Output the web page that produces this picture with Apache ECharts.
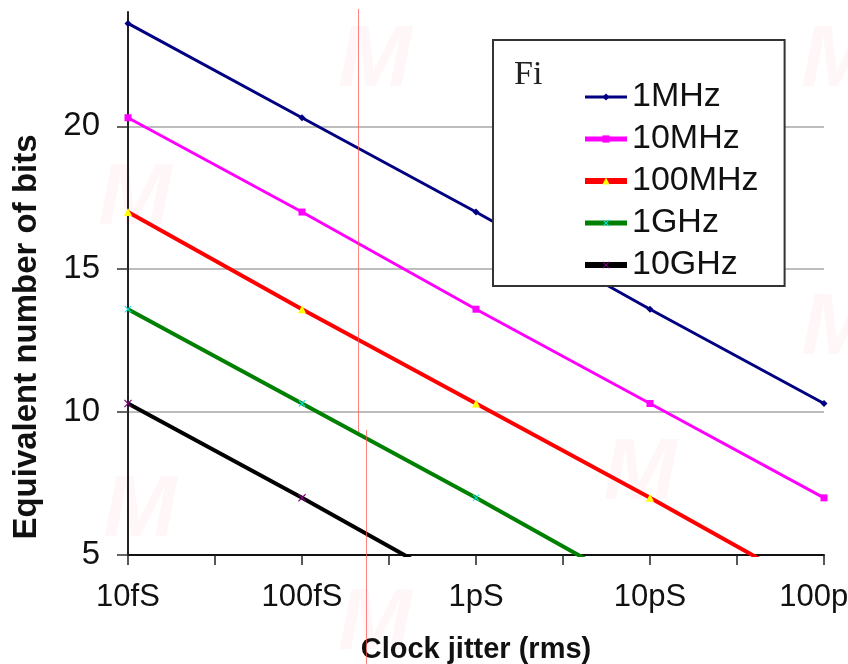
<!DOCTYPE html>
<html>
<head>
<meta charset="utf-8">
<script src="https://cdn.jsdelivr.net/npm/echarts@6/dist/echarts.min.js"></script>
<style>
  html, body { margin: 0; padding: 0; background: #ffffff; }
  #chart { width: 848px; height: 664px; }
</style>
</head>
<body>
<div id="chart"></div>
<script>
// Clock jitter (rms) in seconds, one point per decade, and the tick labels for them
const jitterSeconds = [1e-14, 1e-13, 1e-12, 1e-11, 1e-10];
const jitterLabels = ['10fS', '100fS', '1pS', '10pS', '100pS'];
const bitTicks = [5, 10, 15, 20];

// Equivalent number of bits for each input frequency
const seriesNames = ['1MHz', '10MHz', '100MHz', '1GHz', '10GHz'];
const enob1MHz = [23.6, 20.3, 17.0, 13.6, 10.3];
const enob10MHz = [20.3, 17.0, 13.6, 10.3, 7.0];
const enob100MHz = [17.0, 13.6, 10.3, 7.0, 3.6];
const enob1GHz = [13.6, 10.3, 7.0, 3.6, 0.3];
const enob10GHz = [10.3, 7.0, 3.6, 0.3, -3.0];

const FONT = '"Liberation Sans", Arial, sans-serif';
const crossSymbol = 'path://M0,1L1,0L5,4L9,0L10,1L6,5L10,9L9,10L5,6L1,10L0,9L4,5Z';

function pairs(values) {
  return jitterSeconds.map((s, i) => [s, values[i]]);
}

function lineSeries(name, values, lineColor, lineWidth, symbol, symbolSize, markColor) {
  return {
    name: name,
    type: 'line',
    data: pairs(values),
    clip: true,
    symbol: symbol,
    symbolSize: symbolSize,
    showSymbol: true,
    lineStyle: { color: lineColor, width: lineWidth },
    itemStyle: { color: markColor, borderWidth: 0 },
    emphasis: { disabled: true },
    animation: false
  };
}

function jitterLabel(v) {
  const lg = Math.log10(v);
  const e = Math.round(lg);
  if (Math.abs(lg - e) > 0.01) return '';
  const i = jitterSeconds.findIndex(s => Math.round(Math.log10(s)) === e);
  return i >= 0 ? jitterLabels[i] : '';
}

// faint background logo marks
const logoSpots = [[375, 62], [135, 200], [140, 512], [640, 475], [375, 625], [838, 62], [838, 330]];
const logoMarks = logoSpots.map(p => ({
  type: 'text',
  x: p[0], y: p[1], z: -10, silent: true,
  style: {
    text: 'M', font: 'italic bold 88px ' + FONT,
    fill: 'rgba(255, 60, 60, 0.045)', textAlign: 'center', textVerticalAlign: 'middle'
  }
}));

// legend line thickness per entry
const legendWidths = [3, 5, 6, 5, 6];

const chart = echarts.init(document.getElementById('chart'), null, { renderer: 'canvas' });

chart.setOption({
  backgroundColor: '#ffffff',
  animation: false,
  grid: {
    left: 128, right: 24, top: 12, bottom: 109,
    containLabel: false,
    outerBoundsMode: 'none'
  },
  xAxis: {
    type: 'log',
    logBase: 10,
    min: 1e-14,
    max: 1e-10,
    interval: 0.5,
    axisLine: { show: true, onZero: false, lineStyle: { color: '#111111', width: 2 } },
    axisTick: { show: true, inside: false, length: 10, lineStyle: { color: '#222222', width: 1.5 } },
    minorTick: { show: false },
    splitLine: { show: false },
    axisLabel: {
      formatter: jitterLabel,
      fontFamily: FONT, fontSize: 31, color: '#111111', margin: 27,
      showMinLabel: true, showMaxLabel: true, hideOverlap: false
    },
    name: 'Clock jitter (rms)',
    nameLocation: 'middle',
    nameGap: 80,
    nameTextStyle: { fontFamily: FONT, fontSize: 29, fontWeight: 'bold', color: '#111111' }
  },
  yAxis: {
    type: 'value',
    min: 5,
    max: 24,
    interval: 5,
    axisLine: { show: true, onZero: false, lineStyle: { color: '#222222', width: 2 } },
    axisTick: { show: true, inside: false, length: 11, customValues: bitTicks, lineStyle: { color: '#333333', width: 1.5 } },
    splitLine: { show: true, showMinLine: false, lineStyle: { color: '#bdbdbd', width: 2 } },
    axisLabel: { customValues: bitTicks, fontFamily: FONT, fontSize: 33, color: '#111111', margin: 28 }
  },
  legend: {
    data: seriesNames.map((n, i) => ({ name: n, lineStyle: { width: legendWidths[i] } })),
    orient: 'vertical',
    left: 493,
    top: 40,
    padding: [40, 26, 4, 89],
    itemWidth: 42,
    itemHeight: 9,
    itemGap: 8,
    backgroundColor: '#ffffff',
    borderColor: '#333333',
    borderWidth: 2,
    selectedMode: false,
    textStyle: { fontFamily: FONT, fontSize: 34, color: '#111111', lineHeight: 34 },
    z: 10
  },
  graphic: [
    ...logoMarks,
    {
      type: 'text', x: 27, y: 337, rotation: Math.PI / 2, z: 20,
      style: {
        text: 'Equivalent number of bits', font: 'bold 33px ' + FONT,
        fill: '#111111', textAlign: 'center', textVerticalAlign: 'middle'
      }
    },
    {
      type: 'text', x: 514, y: 58, z: 200, zlevel: 1,
      style: { text: 'Fi', font: '34px "Liberation Serif", "Times New Roman", serif', fill: '#222222' }
    },
    {
      type: 'line', z: 30, silent: true,
      shape: { x1: 358.5, y1: 9, x2: 358.5, y2: 432 },
      style: { stroke: 'rgba(255, 90, 90, 0.75)', lineWidth: 1 }
    },
    {
      type: 'line', z: 30, silent: true,
      shape: { x1: 366.5, y1: 430, x2: 366.5, y2: 664 },
      style: { stroke: 'rgba(255, 90, 90, 0.75)', lineWidth: 1 }
    }
  ],
  series: [
    lineSeries('1MHz', enob1MHz, '#000080', 3, 'diamond', 7, '#000080'),
    lineSeries('10MHz', enob10MHz, '#ff00ff', 3, 'rect', 7, '#ff00ff'),
    lineSeries('100MHz', enob100MHz, '#ff0000', 4, 'triangle', 8, '#ffff00'),
    lineSeries('1GHz', enob1GHz, '#008000', 4, crossSymbol, 7, '#00e5ee'),
    lineSeries('10GHz', enob10GHz, '#000000', 4, crossSymbol, 8, '#800080')
  ]
});
</script>
</body>
</html>
